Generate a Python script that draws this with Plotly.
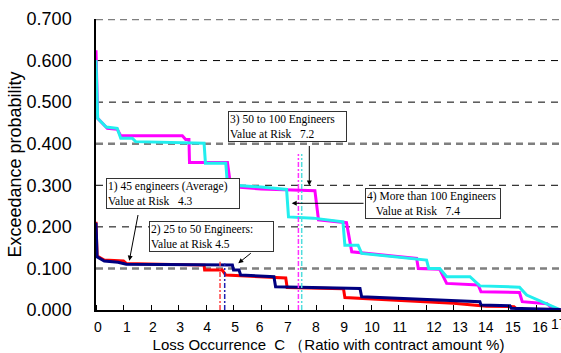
import plotly.graph_objects as go

# ---------------- data ----------------
# 1) 45 engineers (Average) - red
red_x = [0, 0.04, 0.3, 1.0, 1.1, 3.93, 3.95, 4.59, 4.72, 6.9, 6.95, 9.0, 9.05, 13.0, 14.2, 15.2, 15.3, 16.5, 16.9]
red_y = [0.212, 0.130, 0.120, 0.118, 0.112, 0.108, 0.096, 0.096, 0.084, 0.077, 0.054, 0.051, 0.030, 0.016, 0.009, 0.008, 0.002, 0.0, 0.0]

# 2) 25 to 50 engineers - navy
navy_x = [0, 0.04, 0.3, 0.8, 1.1, 4.96, 5.0, 5.2, 5.26, 6.47, 6.53, 9.6, 9.66, 13.2, 13.96, 14.0, 15.05, 15.1, 16.9]
navy_y = [0.210, 0.128, 0.118, 0.115, 0.110, 0.108, 0.096, 0.096, 0.084, 0.080, 0.056, 0.052, 0.032, 0.022, 0.020, 0.012, 0.010, 0.004, 0.001]

# 3) 50 to 100 engineers - magenta
mag_x = [0, 0.04, 0.06, 0.41, 0.77, 0.9, 3.14, 3.26, 3.38, 3.4, 4.78, 4.9, 6.0, 7.96, 8.09, 9.11, 9.3,
         11.66, 11.72, 12.5, 12.75, 13.9, 14.0, 15.4, 15.5, 16.4, 16.6, 16.9]
mag_y = [0.625, 0.500, 0.461, 0.437, 0.435, 0.419, 0.419, 0.410, 0.410, 0.355, 0.355, 0.297, 0.291, 0.287, 0.217, 0.210, 0.140,
         0.124, 0.100, 0.098, 0.064, 0.060, 0.044, 0.042, 0.020, 0.015, 0.003, 0.0]

# 4) More than 100 engineers - cyan
cyan_x = [0, 0.04, 0.06, 0.37, 0.77, 0.9, 1.32, 1.44, 3.93, 3.98, 4.72, 4.78, 6.0, 6.93, 7.0, 7.9, 8.98, 9.05, 9.53,
          9.66, 12.02, 12.1, 12.5, 12.75, 13.6, 13.96, 15.4, 15.66, 16.6, 16.9]
cyan_y = [0.601, 0.500, 0.461, 0.440, 0.437, 0.413, 0.413, 0.405, 0.401, 0.353, 0.353, 0.301, 0.296, 0.290, 0.224, 0.221, 0.212, 0.156, 0.156,
          0.136, 0.120, 0.100, 0.100, 0.080, 0.080, 0.058, 0.055, 0.036, 0.010, 0.0]

# value-at-risk marker lines (position on the axis, top of line)
var_line_x = [4.51, 4.68, 7.36, 7.48]
var_line_top = [0.116, 0.112, 0.375, 0.375]

# axis ticks / labels
x_minor_ticks = list(range(0, 17))
x_label_pos = [0.07, 1.12, 2.07, 3.06, 4.04, 5.06, 5.95, 6.98, 8.0, 9.02, 10.04, 11.05, 12.29, 13.24, 14.17, 15.16, 16.15]
x_label_txt = [str(i) for i in range(17)]
y_ticks = [0.0, 0.1, 0.2, 0.3, 0.4, 0.5, 0.6, 0.7]
y_tick_txt = ["%.3f" % v for v in y_ticks]
grey_grid = [0.1, 0.4, 0.7]

# ---------------- geometry helpers (pixel -> axis) ----------------
W, H = 561, 353
L, T, B = 96, 19, 43
XMAX = (W - L) / 27.5
YMAX = 0.7
PW, PH = W - L, H - T - B


def px2x(px):
    return (px - L) / PW * XMAX


def py2y(py):
    return (H - B - py) / PH * YMAX


fig = go.Figure()
series = [
    (mag_x, mag_y, "#ff00ff"),
    (cyan_x, cyan_y, "#22eeee"),
    (red_x, red_y, "#ff0000"),
    (navy_x, navy_y, "#000080"),
]
for xs, ys, col in series:
    fig.add_trace(go.Scatter(x=xs, y=ys, mode="lines", line=dict(color=col, width=3), hoverinfo="skip"))

var_cols = ["#ff4040", "#2020b0", "#ff30ff", "#50dddd"]
for vx, vt, col in zip(var_line_x, var_line_top, var_cols):
    fig.add_trace(go.Scatter(x=[vx, vx], y=[0, vt], mode="lines",
                             line=dict(color=col, width=1.5, dash="5px,2px,2px,2px"), hoverinfo="skip"))

shapes = []
for gy in y_ticks[1:]:
    if gy in grey_grid:
        shapes.append(dict(type="line", xref="paper", yref="y", x0=0, x1=1, y0=gy, y1=gy, layer="below",
                           line=dict(color="#7f7f7f", width=2.5, dash="7px,5px")))
    else:
        shapes.append(dict(type="line", xref="paper", yref="y", x0=0, x1=1, y0=gy, y1=gy, layer="below",
                           line=dict(color="black", width=1, dash="7px,6px")))

box_font = dict(family="Liberation Serif, Times New Roman, serif", size=11.5, color="black")
nb = "\u00a0"
boxes = [
    ("1) 45 engineers (Average)<br>Value at Risk" + nb * 3 + "4.3", 106, 178.3, 130),
    ("2) 25 to 50 Engineers:<br>Value at Risk 4.5", 149, 220.7, 121),
    ("3) 50 to 100 Engineers<br>Value at Risk" + nb * 3 + "7.2", 228.3, 110.7, 115),
    ("4) More than 100 Engineers<br>" + nb * 3 + "Value at Risk" + nb * 3 + "7.4", 365, 188.3, 132),
]
annotations = []
for txt, bx, by, bw in boxes:
    annotations.append(dict(x=px2x(bx), y=py2y(by), xref="x", yref="y", xanchor="left", yanchor="top",
                            text=txt, showarrow=False, align="left", width=bw, font=box_font,
                            bgcolor="white", bordercolor="#333333", borderwidth=1, borderpad=1))

arrows = [
    ((138.3, 213.5), (129.3, 260.7)),
    ((252.3, 252.0), (238.3, 263.3)),
    ((309.3, 144.5), (309.3, 185.5)),
    ((365.0, 203.3), (291.7, 203.3)),
]
for (tx, ty), (hx, hy) in arrows:
    annotations.append(dict(x=px2x(hx), y=py2y(hy), ax=px2x(tx), ay=py2y(ty), xref="x", yref="y",
                            axref="x", ayref="y", text="", showarrow=True, arrowhead=2, arrowsize=1,
                            arrowwidth=1, arrowcolor="black", standoff=0, startstandoff=0))

# partially visible "17" label at the cropped right edge
annotations.append(dict(x=(559 - L) / PW, y=-(324 - (H - B)) / PH, xref="paper", yref="paper",
                        text="17", showarrow=False, xanchor="center", yanchor="middle",
                        font=dict(family="Liberation Sans, Arial, sans-serif", size=14, color="black")))

fig.update_layout(
    width=W, height=H,
    margin=dict(l=L, r=0, t=T, b=B, pad=0, autoexpand=False),
    paper_bgcolor="white", plot_bgcolor="white",
    showlegend=False,
    font=dict(family="Liberation Sans, Arial, sans-serif", color="black"),
    shapes=shapes,
    annotations=annotations,
    xaxis=dict(range=[0, XMAX], showgrid=False, zeroline=False, automargin=False,
               showline=True, linecolor="black", linewidth=1.5,
               tickmode="array", tickvals=x_label_pos, ticktext=x_label_txt, ticks="",
               tickfont=dict(size=14), ticklabelstandoff=3,
               minor=dict(ticks="inside", ticklen=5, tickcolor="black", tickwidth=1,
                          tickmode="array", tickvals=x_minor_ticks, showgrid=False),
               title=dict(text="Loss Occurrence\u00a0\u00a0C\u00a0（Ratio with contract amount %)",
                          font=dict(size=15), standoff=6)),
    yaxis=dict(range=[0, YMAX], showgrid=False, zeroline=False, automargin=False,
               showline=True, linecolor="black", linewidth=1.5,
               tickmode="array", tickvals=y_ticks, ticktext=y_tick_txt, ticks="",
               tickfont=dict(size=18), ticklabelstandoff=19,
               title=dict(text="Exceedance probability", font=dict(size=18), standoff=0)),
)

fig.write_html("out.html", config={"displayModeBar": False},
               post_script="document.body.style.margin='0';document.body.style.overflow='hidden';")
